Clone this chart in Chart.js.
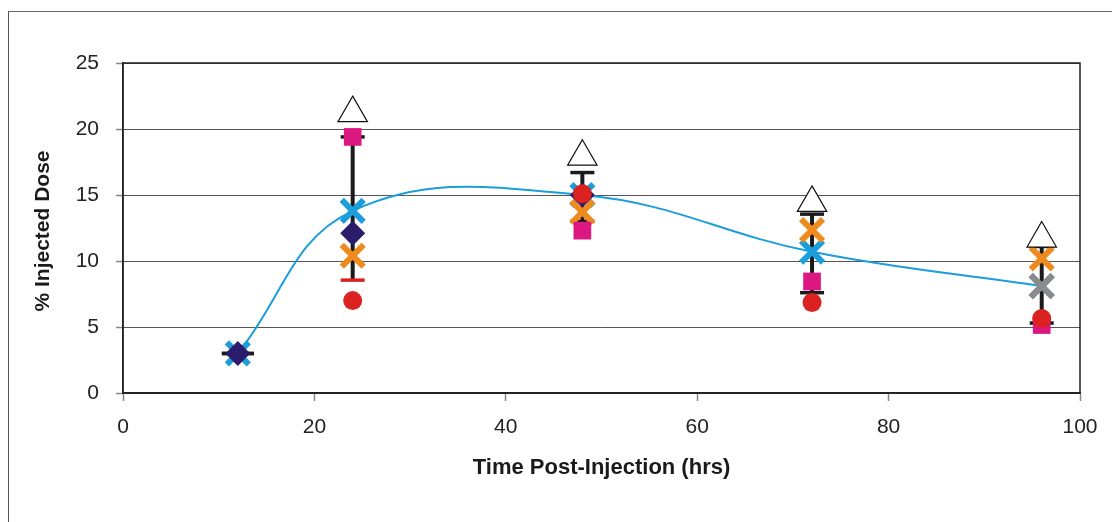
<!DOCTYPE html>
<html>
<head>
<meta charset="utf-8">
<script src="https://cdn.jsdelivr.net/npm/chart.js@4.4.1/dist/chart.umd.min.js"></script>
<style>
    html, body { margin: 0; padding: 0; background: #fff; overflow: hidden; }
    #frame {
        position: absolute; left: 8px; top: 11px; width: 1200px; height: 600px;
        border-left: 1px solid #555; border-top: 1px solid #666;
    }
    #wrap { position: absolute; left: 0; top: 0; width: 1112px; height: 522px; }
</style>
</head>
<body>
<div id="frame"></div>
<div id="wrap"><canvas id="doseChart"></canvas></div>
<script>
// hours post-injection
const times = [12, 24, 48, 72, 96];

// mean curve (blue X + smoothed line) and its error bar ends
const meanDose = [3.0, 13.8, 15.0, 10.7, 8.1];
const errLow = [3.0, 8.55, 13.0, 7.6, 5.3];
const errHigh = [3.0, 19.4, 16.7, 13.55, 11.1];

// individual animals
const doseDiamond = [3.0, 12.1, 15.0, null, null];
const doseOrange = [null, 10.4, 13.7, 12.35, 10.2];
const doseSquare = [null, 19.4, 12.3, 8.45, 5.15];
const doseCircle = [null, 7.0, 15.1, 6.85, 5.65];
const doseTriangle = [null, 21.2, 17.9, 14.4, 11.7];
const doseGray = [null, null, null, null, 8.1];

const xTicks = [0, 20, 40, 60, 80, 100];
const yTicks = [0, 5, 10, 15, 20, 25];

const COLORS = {
    blue: '#1c9ddc',
    navy: '#2a1b6b',
    orange: '#ef8a1e',
    pink: '#dd1780',
    red: '#da2220',
    gray: '#8b8b8b',
    bar: '#1b1b1b'
};

const FONT = '"Liberation Sans", Arial, sans-serif';

const toPoints = (vals) => times.map((t, i) => ({ x: t, y: vals[i] })).filter(p => p.y !== null);

// error bars + right/top frame, drawn under the markers
const errorBars = {
    id: 'errorBars',
    beforeDatasetsDraw(chart) {
        const { ctx, chartArea, scales: { x, y } } = chart;
        ctx.save();
        ctx.strokeStyle = '#222';
        ctx.lineWidth = 1.5;
        ctx.strokeRect(chartArea.left, chartArea.top, chartArea.right - chartArea.left, chartArea.bottom - chartArea.top);

        times.forEach((t, i) => {
            const px = x.getPixelForValue(t);
            const top = y.getPixelForValue(errHigh[i]);
            const bot = y.getPixelForValue(errLow[i]);
            ctx.strokeStyle = COLORS.bar;
            ctx.lineWidth = 4;
            ctx.beginPath();
            ctx.moveTo(px, top);
            ctx.lineTo(px, bot);
            ctx.stroke();

            const half = i === 0 ? 16 : 12;
            ctx.lineWidth = 3.5;
            ctx.beginPath();
            ctx.moveTo(px - half, top);
            ctx.lineTo(px + half, top);
            ctx.stroke();
            // the lower cap at 24 h is red in the original
            ctx.strokeStyle = i === 1 ? COLORS.red : COLORS.bar;
            ctx.beginPath();
            ctx.moveTo(px - half, bot);
            ctx.lineTo(px + half, bot);
            ctx.stroke();
        });
        ctx.restore();
    }
};

const yTitle = {
    id: 'yTitle',
    afterDraw(chart) {
        const { ctx } = chart;
        ctx.save();
        ctx.translate(43, 231);
        ctx.rotate(-Math.PI / 2);
        ctx.font = 'bold 21px ' + FONT;
        ctx.fillStyle = '#1a1a1a';
        ctx.textAlign = 'center';
        ctx.textBaseline = 'middle';
        ctx.fillText('% Injected Dose', 0, 0);
        ctx.restore();
    }
};

const ctx = document.getElementById('doseChart').getContext('2d');

new Chart(ctx, {
    type: 'scatter',
    data: {
        datasets: [
            {
                label: 'Circle',
                data: toPoints(doseCircle),
                pointStyle: 'circle',
                pointRadius: 9.5,
                backgroundColor: COLORS.red,
                borderColor: COLORS.red,
                pointBorderWidth: 0
            },
            {
                label: 'Square',
                data: toPoints(doseSquare),
                pointStyle: 'rect',
                pointRadius: 12.5,
                backgroundColor: COLORS.pink,
                borderColor: COLORS.pink,
                pointBorderWidth: 0
            },
            {
                label: 'Triangle',
                data: toPoints(doseTriangle),
                pointStyle: 'triangle',
                pointRadius: 17,
                backgroundColor: '#ffffff',
                borderColor: '#111',
                pointBorderWidth: 1.2
            },
            {
                label: 'Orange',
                data: toPoints(doseOrange),
                pointStyle: 'crossRot',
                pointRadius: 15.5,
                borderColor: COLORS.orange,
                pointBorderWidth: 6
            },
            {
                label: 'Gray',
                data: toPoints(doseGray),
                pointStyle: 'crossRot',
                pointRadius: 15.5,
                borderColor: COLORS.gray,
                pointBorderWidth: 6
            },
            {
                label: 'Diamond',
                data: toPoints(doseDiamond),
                pointStyle: 'rectRot',
                pointRadius: 12.5,
                backgroundColor: COLORS.navy,
                borderColor: COLORS.navy,
                pointBorderWidth: 0
            },
            {
                label: 'Mean',
                data: toPoints(meanDose),
                showLine: true,
                tension: 0.4,
                borderColor: COLORS.blue,
                borderWidth: 2,
                pointStyle: 'crossRot',
                pointRadius: 15.5,
                pointBorderColor: COLORS.blue,
                pointBorderWidth: 6
            }
        ]
    },
    options: {
        responsive: true,
        maintainAspectRatio: false,
        animation: false,
        layout: { padding: { left: 0, top: 63, right: 32, bottom: 0 } },
        plugins: {
            legend: { display: false },
            tooltip: { enabled: false }
        },
        scales: {
            x: {
                type: 'linear',
                min: 0,
                max: 100,
                afterFit: (scale) => { scale.height = 129; },
                afterBuildTicks: (scale) => { scale.ticks = xTicks.map(v => ({ value: v })); },
                border: { display: true, color: '#222', width: 1.5 },
                grid: { drawOnChartArea: false, drawTicks: true, tickLength: 8, tickColor: '#888', tickWidth: 1.5 },
                ticks: {
                    color: '#222',
                    padding: 14,
                    maxRotation: 0,
                    font: { family: FONT, size: 21 }
                },
                title: {
                    display: true,
                    text: 'Time Post-Injection (hrs)',
                    color: '#1a1a1a',
                    padding: { top: 0, bottom: 41 },
                    font: { family: FONT, size: 22, weight: 'bold' }
                }
            },
            y: {
                type: 'linear',
                min: 0,
                max: 25,
                afterFit: (scale) => { scale.width = 123; },
                afterBuildTicks: (scale) => { scale.ticks = yTicks.map(v => ({ value: v })); },
                border: { display: true, color: '#222', width: 1.5 },
                grid: { color: '#555', lineWidth: 1, drawTicks: true, tickLength: 7, tickColor: '#888', tickWidth: 1.5 },
                ticks: {
                    color: '#222',
                    padding: 17,
                    font: { family: FONT, size: 21 }
                }
            }
        }
    },
    plugins: [errorBars, yTitle]
});
</script>
</body>
</html>
